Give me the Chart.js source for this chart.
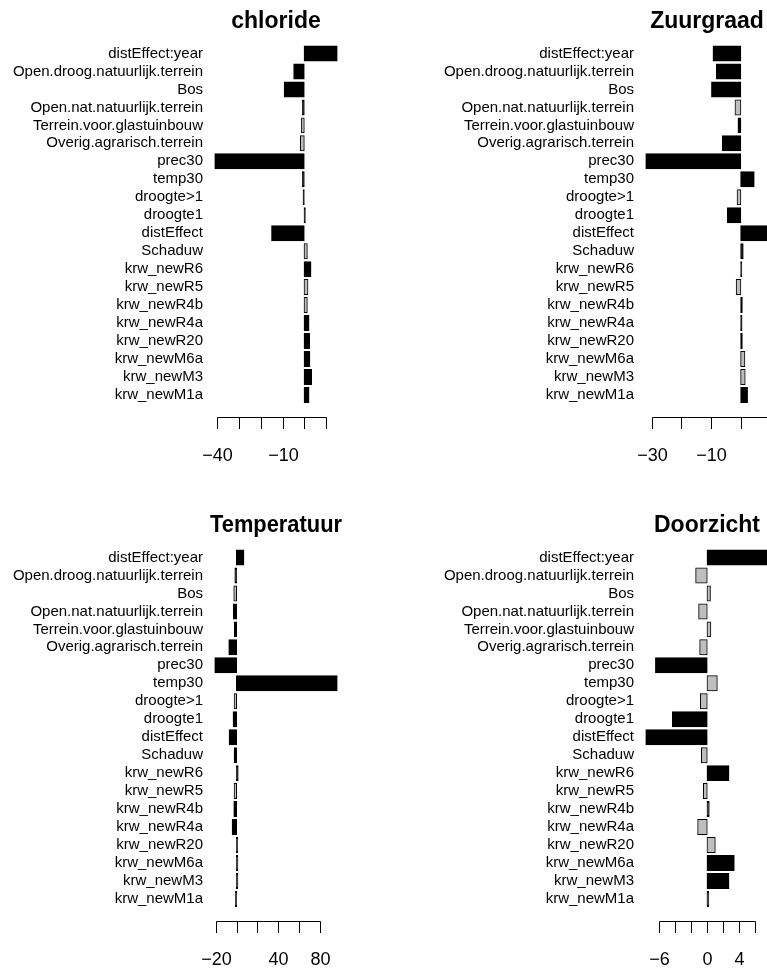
<!DOCTYPE html>
<html>
<head>
<meta charset="utf-8">
<title>Effecten per parameter</title>
<script src="https://cdn.jsdelivr.net/npm/chart.js@4.4.1/dist/chart.umd.min.js"></script>
<style>
  body { margin: 0; background: #fff; }
  #wrap { position: relative; width: 767px; height: 970px; overflow: hidden; background: #fff; }
  #wrap canvas { position: absolute; }
</style>
</head>
<body>
<div id="wrap">
  <canvas id="chloride" width="431" height="504" style="left:0;top:0"></canvas>
  <canvas id="zuurgraad" width="431" height="504" style="left:431px;top:0"></canvas>
  <canvas id="temperatuur" width="431" height="504" style="left:0;top:504px"></canvas>
  <canvas id="doorzicht" width="431" height="504" style="left:431px;top:504px"></canvas>
</div>
<script>
// --- Data (top row of each panel first) ---
const terms = [
  'distEffect:year', 'Open.droog.natuurlijk.terrein', 'Bos', 'Open.nat.natuurlijk.terrein',
  'Terrein.voor.glastuinbouw', 'Overig.agrarisch.terrein', 'prec30', 'temp30',
  'droogte>1', 'droogte1', 'distEffect', 'Schaduw', 'krw_newR6', 'krw_newR5',
  'krw_newR4b', 'krw_newR4a', 'krw_newR20', 'krw_newM6a', 'krw_newM3', 'krw_newM1a'
];

const chlorideValues = [15.2, -4.8, -9.2, -0.8, -1.2, -1.7, -41.2, -0.8, -0.4, 0.5, -15.0, 1.4, 3.1, 1.7, 1.4, 2.2, 2.5, 2.6, 3.4, 2.2];
const chlorideSig    = [1, 1, 1, 1, 0, 0, 1, 1, 1, 1, 1, 0, 1, 0, 0, 1, 1, 1, 1, 1];

const zuurgraadValues = [-9.3, -8.2, -9.8, -1.9, -0.9, -6.2, -31.9, 4.5, -1.2, -4.5, 9.2, 0.8, 0.2, -1.5, 0.5, 0.4, 0.5, 1.35, 1.45, 2.25];
const zuurgraadSig    = [1, 1, 1, 0, 1, 1, 1, 1, 0, 1, 1, 1, 1, 0, 1, 1, 1, 0, 0, 1];

const temperatuurValues = [7, -1.5, -2.5, -3, -2, -7.3, -20.7, 96.3, -2.2, -3.2, -7, -2.2, 1.5, -2.2, -2.5, -4.1, 1, 1.2, 1.2, -0.5];
const temperatuurSig    = [1, 1, 0, 1, 1, 1, 1, 1, 0, 1, 1, 1, 1, 0, 1, 1, 1, 1, 1, 1];

const doorzichtValues = [7.57, -1.41, 0.4, -1.04, 0.45, -0.91, -6.4, 1.25, -0.83, -4.3, -7.6, -0.7, 2.7, -0.45, 0.25, -1.16, 1.0, 3.36, 2.7, 0.2];
const doorzichtSig    = [1, 0, 0, 0, 0, 0, 1, 0, 0, 1, 1, 0, 1, 0, 1, 0, 0, 1, 1, 1];

// axis ticks (R style: not every tick gets a label)
const chlorideTicks = [-40, -30, -20, -10, 0, 10];
const chlorideTickLabels = ['\u221240', '', '', '\u221210', '', ''];
const zuurgraadTicks = [-30, -20, -10, 0, 10];
const zuurgraadTickLabels = ['\u221230', '', '\u221210', '', ''];
const temperatuurTicks = [-20, 0, 20, 40, 60, 80];
const temperatuurTickLabels = ['\u221220', '', '', '40', '', '80'];
const doorzichtTicks = [-6, -4, -2, 0, 2, 4, 6];
const doorzichtTickLabels = ['\u22126', '', '', '0', '', '4', ''];

const FONT = '"Liberation Sans", Arial, Helvetica, sans-serif';
Chart.defaults.font.family = FONT;
Chart.defaults.color = '#000';

// base-graphics style axis: line only between first and last tick, ticks pointing down
const rAxis = {
  id: 'rAxis',
  afterDraw(chart, args, opts) {
    const { ctx, chartArea } = chart;
    const x = chart.scales.x;
    const y0 = Math.round(chartArea.bottom + 12.8) + 0.5;
    const px = opts.ticks.map(v => Math.round(x.getPixelForValue(v)) + 0.5);
    ctx.save();
    ctx.strokeStyle = '#000';
    ctx.lineWidth = 1;
    ctx.beginPath();
    ctx.moveTo(px[0], y0);
    ctx.lineTo(px[px.length - 1], y0);
    px.forEach(p => { ctx.moveTo(p, y0); ctx.lineTo(p, y0 + 11.5); });
    ctx.stroke();
    ctx.fillStyle = '#000';
    ctx.font = '18px ' + FONT;
    ctx.textAlign = 'center';
    ctx.textBaseline = 'alphabetic';
    opts.labels.forEach((t, i) => { if (t) ctx.fillText(t, px[i], y0 + 43); });
    ctx.restore();
  }
};

function makePanel(id, title, values, sig, ticks, tickLabels) {
  // R barplot default: data range (incl. 0) widened by 4% on both sides
  const lo = Math.min(0, ...values), hi = Math.max(0, ...values);
  const ext = (hi - lo) * 0.04;

  new Chart(document.getElementById(id), {
    type: 'bar',
    data: {
      labels: terms,
      datasets: [{
        data: values,
        backgroundColor: sig.map(s => s ? '#000000' : '#bebebe'),
        borderColor: '#000',
        borderWidth: 1,
        borderSkipped: false,
        inflateAmount: 0.5,   // border stroke sits half outside the bar, like R
        minBarLength: 1,
        barPercentage: 0.833,
        categoryPercentage: 1
      }]
    },
    options: {
      indexAxis: 'y',
      responsive: false,
      devicePixelRatio: 1,
      animation: false,
      layout: { padding: { left: 0, right: 89, top: 0, bottom: 100.1 } },
      scales: {
        x: { type: 'linear', display: false, min: lo - ext, max: hi + ext },
        y: {
          grid: { display: false, drawTicks: false },
          border: { display: false },
          ticks: { padding: 7, font: { size: 15 }, color: '#000', autoSkip: false },
          afterFit: scale => { scale.width = 210; }
        }
      },
      plugins: {
        legend: { display: false },
        tooltip: { enabled: false },
        title: {
          display: true,
          text: title,
          fullSize: false,
          color: '#000',
          font: { size: 23, weight: 'bold' },
          padding: { top: 7.6, bottom: 9.3 }
        },
        rAxis: { ticks, labels: tickLabels }
      }
    },
    plugins: [rAxis]
  });
}

makePanel('chloride', 'chloride', chlorideValues, chlorideSig, chlorideTicks, chlorideTickLabels);
makePanel('zuurgraad', 'Zuurgraad', zuurgraadValues, zuurgraadSig, zuurgraadTicks, zuurgraadTickLabels);
makePanel('temperatuur', 'Temperatuur', temperatuurValues, temperatuurSig, temperatuurTicks, temperatuurTickLabels);
makePanel('doorzicht', 'Doorzicht', doorzichtValues, doorzichtSig, doorzichtTicks, doorzichtTickLabels);
</script>
</body>
</html>
